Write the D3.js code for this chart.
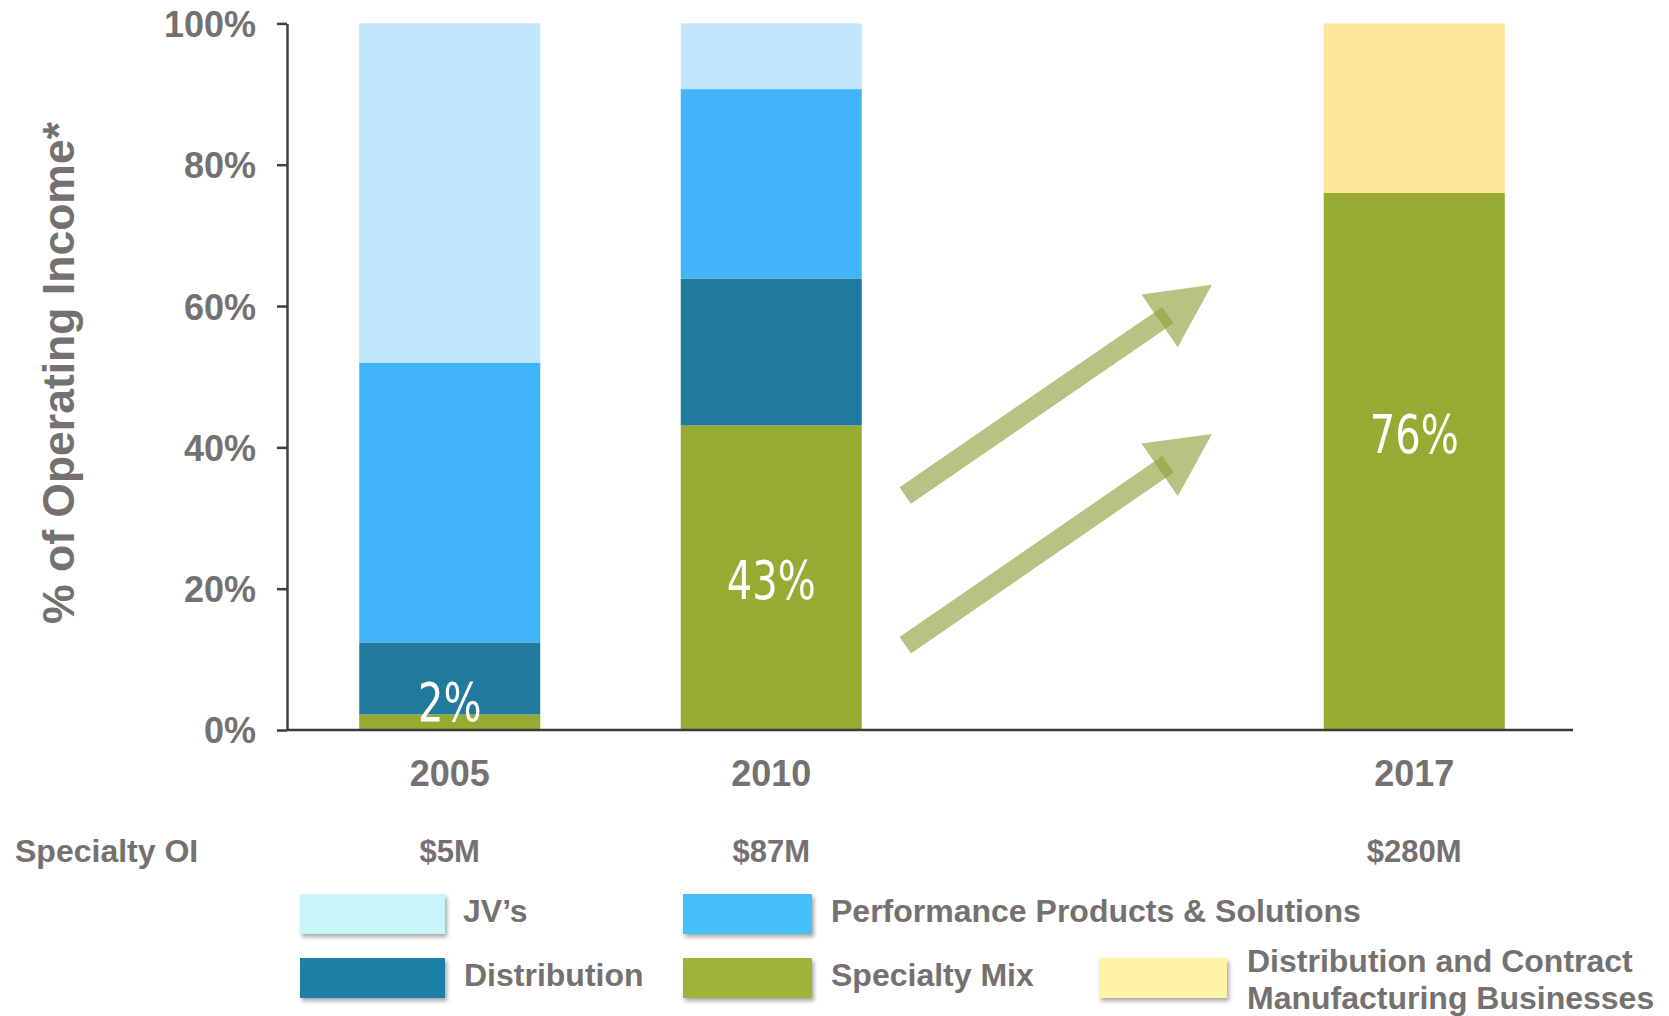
<!DOCTYPE html>
<html><head><meta charset="utf-8">
<script src="https://cdn.jsdelivr.net/npm/d3@7"></script>
<style>body{margin:0;background:#fff;} svg{display:block}</style>
</head><body><svg id="chart" width="1669" height="1016"></svg>
<script>
// ---- data ----
const categories = ["2005", "2010", "2017"];
const slots = ["2005", "2010", "gap", "2017"];
const seriesNames = ["Specialty Mix", "Distribution", "Performance Products & Solutions", "JV’s", "Distribution and Contract Manufacturing Businesses"];
const specialtyMix = [2.2, 43.1, 76];
const distribution = [10.2, 20.8, 0];
const perfProducts = [39.6, 26.8, 0];
const jvs = [48.0, 9.3, 0];
const distContract = [0, 0, 24];
const barLabels = ["2%", "43%", "76%"];
const labelAt = [4.0, 21.2, 41.9];          // label centre, in % units
const specialtyOI = ["$5M", "$87M", "$280M"];
const yTicks = [0, 20, 40, 60, 80, 100];
// arrows in data units: slot index (0..4) and percent
const arrowStart = [[1.923, 33.2], [1.923, 12.0]];
const arrowTip = [[2.877, 63.0], [2.877, 41.9]];

// ---- styles ----
const barColors = ["#97AA32", "#1F7A9E", "#42B4FB", "#C0E6FB", "#FDE59A"];
const legendColors = ["#A0B238", "#1F80A6", "#45C0FB", "#C9F4FC", "#FFF4A6"];
const gray = "#767171";
const boldFont = "'Liberation Sans', Arial, sans-serif";
const narrowFont = "'Liberation Sans Narrow', 'DejaVu Sans Condensed', sans-serif";

const svg = d3.select("#chart");
const defs = svg.append("defs");
const f = defs.append("filter").attr("id", "shadow").attr("x", "-10%").attr("y", "-10%").attr("width", "130%").attr("height", "140%");
f.append("feDropShadow").attr("dx", 2).attr("dy", 3).attr("stdDeviation", 2).attr("flood-color", "#000").attr("flood-opacity", 0.35);

const pLeft = 287, pRight = 1573, pTop = 23.4, pBottom = 730;
const x = d3.scaleBand().domain(slots).range([pLeft + 2, pRight + 2]).paddingInner(0.437).paddingOuter(0.2185);
const y = d3.scaleLinear().domain([0, 100]).range([pBottom, pTop]);
const slotX = d3.scaleLinear().domain([0, slots.length]).range([pLeft, pRight]);

// stacked data
const seriesValues = [specialtyMix, distribution, perfProducts, jvs, distContract];
const rows = categories.map((c, i) => {
  const o = { cat: c };
  seriesNames.forEach((s, k) => o[s] = seriesValues[k][i]);
  return o;
});
const stack = d3.stack().keys(seriesNames)(rows);

svg.append("g").selectAll("g").data(stack).join("g")
  .attr("fill", (d, i) => barColors[i])
  .selectAll("rect").data(d => d).join("rect")
  .attr("x", d => x(d.data.cat))
  .attr("width", x.bandwidth())
  .attr("y", d => y(d[1]))
  .attr("height", d => y(d[0]) - y(d[1]));

// y axis
const yAxis = d3.axisLeft(y).tickValues(yTicks).tickFormat(d => d + "%").tickSize(10).tickSizeOuter(0).tickPadding(21);
const ga = svg.append("g").attr("transform", `translate(${pLeft},0)`).call(yAxis);
ga.select(".domain").attr("stroke", "#404040").attr("stroke-width", 2.5);
ga.selectAll(".tick line").attr("stroke", "#404040").attr("stroke-width", 2.5);
ga.selectAll(".tick text").attr("fill", gray).attr("font-family", boldFont).attr("font-weight", "bold").attr("font-size", 36).attr("dy", "0.36em");

// x axis line
const xAxis = d3.axisBottom(x).tickValues(categories).tickSize(0).tickSizeOuter(0).tickPadding(30);
const gx = svg.append("g").attr("transform", `translate(0,${pBottom})`).call(xAxis);
gx.select(".domain").attr("stroke", "#3A3A3A").attr("stroke-width", 2.5).attr("d", `M${pLeft},0H${pRight}`);
gx.selectAll(".tick text").attr("fill", gray).attr("font-family", boldFont).attr("font-weight", "bold").attr("font-size", 36);

// y title
svg.append("text").attr("transform", `translate(74,373) rotate(-90)`)
  .attr("text-anchor", "middle").attr("fill", gray).attr("font-family", boldFont)
  .attr("font-weight", "bold").attr("font-size", 44.5).text("% of Operating Income*");

// bar labels
svg.append("g").selectAll("text").data(categories).join("text")
  .attr("transform", (d, i) => `translate(${x(d) + x.bandwidth() / 2},${y(labelAt[i]) + 19}) scale(0.84,1)`)
  .attr("text-anchor", "middle").attr("fill", "#fff")
  .attr("font-family", narrowFont).attr("font-size", 53)
  .text((d, i) => barLabels[i]);

// Specialty OI row
svg.append("text").attr("x", 15).attr("y", 862).attr("fill", gray).attr("font-family", boldFont)
  .attr("font-weight", "bold").attr("font-size", 32).text("Specialty OI");
svg.append("g").selectAll("text").data(categories).join("text")
  .attr("x", d => x(d) + x.bandwidth() / 2)
  .attr("y", 862).attr("text-anchor", "middle").attr("fill", gray)
  .attr("font-family", boldFont).attr("font-weight", "bold").attr("font-size", 31)
  .text((d, i) => specialtyOI[i]);

// arrows
const arrowFill = "#8FA33F";
const ag = svg.append("g");
arrowStart.forEach((s, i) => {
  const sx = slotX(s[0]), sy = y(s[1]);
  const tx = slotX(arrowTip[i][0]), ty = y(arrowTip[i][1]);
  const dx = tx - sx, dy = ty - sy, len = Math.hypot(dx, dy);
  const ux = dx / len, uy = dy / len, nx = -uy, ny = ux;
  const headLen = 63.5, headHalf = 32, shaftHalf = 10, overlap = 10;
  const bx = tx - ux * headLen, by = ty - uy * headLen;
  const ex = bx + ux * overlap, ey = by + uy * overlap;
  ag.append("polygon").attr("points", [
    [sx + nx * shaftHalf, sy + ny * shaftHalf], [ex + nx * shaftHalf, ey + ny * shaftHalf],
    [ex - nx * shaftHalf, ey - ny * shaftHalf], [sx - nx * shaftHalf, sy - ny * shaftHalf]
  ].map(p => p.join(",")).join(" ")).attr("fill", arrowFill).attr("fill-opacity", 0.65);
  ag.append("polygon").attr("points", [
    [tx, ty], [bx + nx * headHalf, by + ny * headHalf], [bx - nx * headHalf, by - ny * headHalf]
  ].map(p => p.join(",")).join(" ")).attr("fill", arrowFill).attr("fill-opacity", 0.65);
});

// legend
const legendItems = [
  { k: 3, x: 300, y: 894, w: 145, tx: 463, lines: ["JV’s"] },
  { k: 2, x: 683, y: 894, w: 129, tx: 831, lines: ["Performance Products & Solutions"] },
  { k: 1, x: 300, y: 958, w: 145, tx: 464, lines: ["Distribution"] },
  { k: 0, x: 683, y: 958, w: 129, tx: 831, lines: ["Specialty Mix"] },
  { k: 4, x: 1099, y: 958, w: 128, tx: 1247, lines: ["Distribution and Contract", "Manufacturing Businesses"] }
];
const lg = svg.append("g");
legendItems.forEach(it => {
  lg.append("rect").attr("x", it.x).attr("y", it.y).attr("width", it.w).attr("height", 40)
    .attr("fill", legendColors[it.k]).attr("filter", "url(#shadow)");
  const t = lg.append("text").attr("fill", gray).attr("font-family", boldFont)
    .attr("font-weight", "bold").attr("font-size", 32);
  if (it.lines.length === 1) {
    t.append("tspan").attr("x", it.tx).attr("y", it.y + 28).text(it.lines[0]);
  } else {
    it.lines.forEach((l, j) => t.append("tspan").attr("x", it.tx).attr("y", it.y + 14 + j * 37).text(l));
  }
});
</script></body></html>
